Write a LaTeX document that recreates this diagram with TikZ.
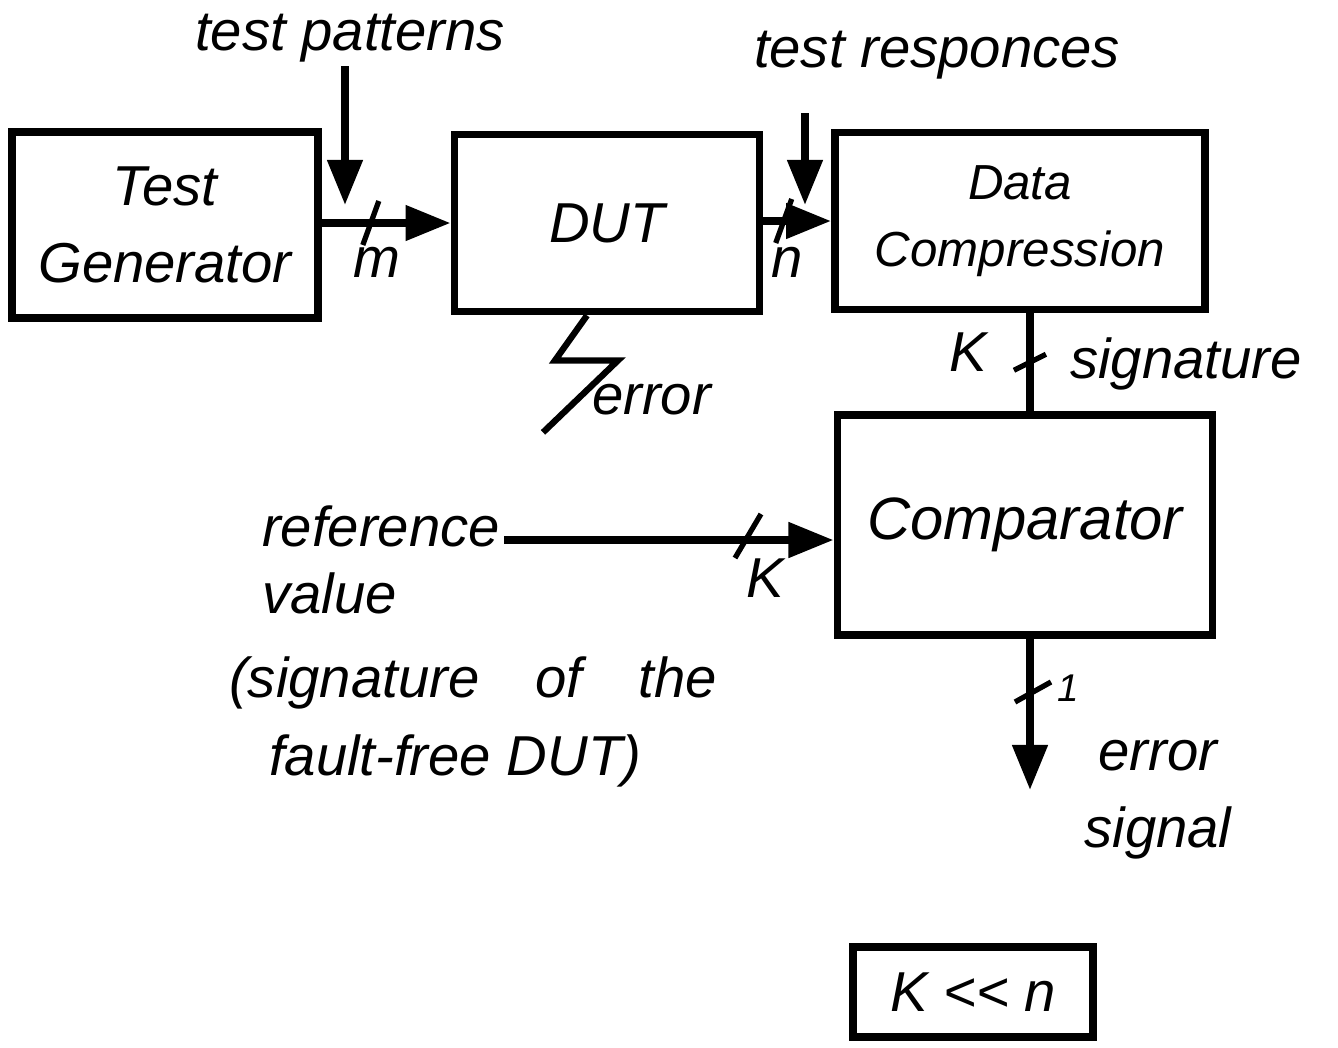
\documentclass[tikz,border=0pt]{standalone}
\usepackage{fontspec}
\setmainfont{Liberation Sans}
\usetikzlibrary{positioning,arrows.meta,calc}

\begin{document}
\begin{tikzpicture}[
  x=0.01cm, y=-0.01cm,
  font=\itshape\fontsize{16}{22}\selectfont,
  blk/.style={draw, line width=2.2pt, align=center, inner sep=0pt},
  lk/.style={line width=2.2pt, -{Triangle[length=4.5mm,width=3.4mm]}},
  ln/.style={line width=2.2pt},
  tk/.style={line width=1.5pt},
  zap/.style={line width=1.8pt, line join=miter},
  lbl/.style={inner sep=1pt},
]
\useasboundingbox (0,0) rectangle (1338,1047);
% Blocks
\node[blk, minimum width=3.06cm, minimum height=1.86cm] (tg) at (165,225) {Test\\Generator};
\node[blk, minimum width=3.05cm, minimum height=1.77cm] (dut) at (607,223) {DUT};
\node[blk, minimum width=3.7cm, minimum height=1.77cm,
      font=\itshape\fontsize{14}{19}\selectfont] (dc) at (1020,221) {Data\\Compression};
\node[blk, minimum width=3.75cm, minimum height=2.2cm,
      font=\itshape\fontsize{17}{22}\selectfont] (cmp) at (1025,525) {Comparator};
\node[blk, minimum width=2.4cm, minimum height=0.9cm] (kn) at (973,992) {K <{}<{} n};
% Test patterns into the DUT
\draw[lk] (tg.east |- dut.west) -- (dut.west);
\draw[tk] ($(tg.east |- dut.west)!0.38!(dut.west)$) +(-8,22) -- +(8,-22);
\node[lbl] (m) at (377,262) {m};
\node[lbl] (tp) at (350,38) {test patterns};
\coordinate (tpend) at (345,205);
\draw[lk] (tp.south -| tpend) -- (tpend);
% Responses into the compressor
\draw[lk] (dut.east |- dc.west) -- (dc.west);
\draw[tk] ($(dut.east |- dc.west)!0.3!(dc.west)$) +(-8,22) -- +(8,-22);
\node[lbl] (n) at (787,262) {n};
\node[lbl] (tr) at (937,55) {test responces};
\coordinate (trend) at (805,205);
\draw[lk] ([yshift=-3mm]tr.south -| trend) -- (trend);
% Error injected in the DUT
\coordinate (hit) at ($(dut.south)+(-20,0)$);
\draw[zap] (hit) -- ++(-32,45) -- ++(63,0) -- ++(-75,72);
\node[lbl, anchor=west] (err) at (588,400) {error};
% Signature to comparator
\coordinate (sx) at (1030,0);
\draw[ln] (dc.south -| sx) -- (cmp.north -| sx);
\draw[tk] ($(dc.south -| sx)!0.5!(cmp.north -| sx)$) +(-16,8) -- +(16,-8);
\node[lbl] (ks) at (968,352) {K};
\node[lbl, anchor=west] (sig) at (1066,364) {signature};
% Reference value
\node[lbl, anchor=west, align=left, font=\itshape\fontsize{16}{19}\selectfont]
  (rv) at (258,560) {reference\\value};
\coordinate (rvs) at (520,540);
\draw[lk] (rv.east |- rvs) -- (cmp.west |- rvs);
\draw[tk] (748,536) +(-13,22) -- +(13,-22);
\node[lbl] (kr) at (765,578) {K};
\node[lbl, anchor=west, align=left] (note) at (225,722)
  {(signature\quad of\quad the\\\hspace*{4mm}fault-free DUT)};
% Error signal out
\coordinate (es) at (1030,790);
\draw[lk] (cmp.south -| es) -- (es);
\draw[tk] (1033,692) +(-18,10) -- +(18,-10);
\node[lbl, font=\itshape\fontsize{11}{13}\selectfont] (one) at (1068,688) {1};
\node[lbl, align=center] (esig) at (1158,800) {error\\signal};
\end{tikzpicture}
\end{document}
